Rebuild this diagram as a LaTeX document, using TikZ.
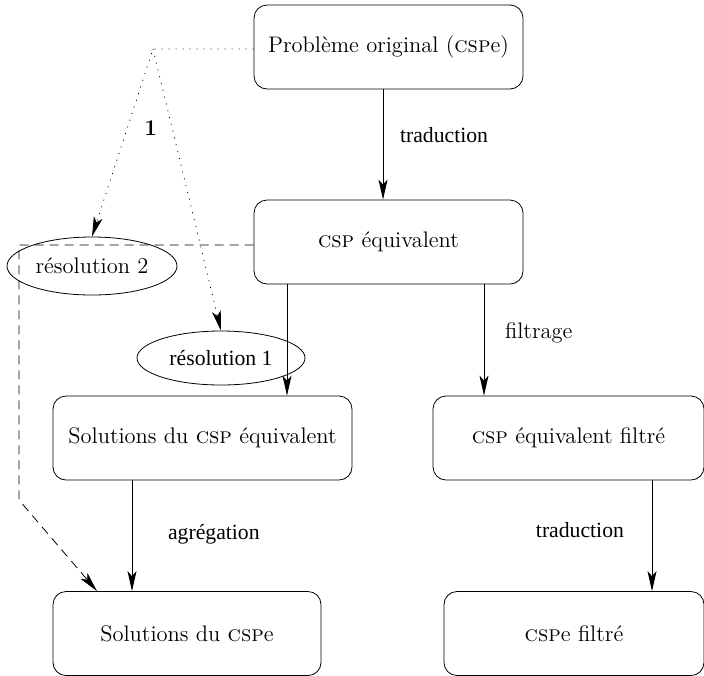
\documentclass[tikz,border=0pt]{standalone}
\usepackage{fontspec}
\newfontfamily\timesfont{Liberation Serif}
\usetikzlibrary{shapes.geometric,arrows.meta}
\newcommand{\CSP}{\textsc{csp}}
\newcommand{\CSPe}{\textsc{csp}e}
\begin{document}
\begin{tikzpicture}[x=0.5pt,y=-0.5pt,
    font=\fontsize{11.25}{13.5}\selectfont,
    boite/.style={draw,rounded corners=6.5pt,minimum height=42pt,inner sep=0pt},
    bulle/.style={draw,ellipse,minimum width=84pt,minimum height=27pt,inner sep=0pt},
    fleche/.style={-{Stealth[length=10pt,width=4.5pt,inset=2.5pt]}},
    etiq/.style={font=\timesfont\fontsize{10.85}{13}\selectfont},
    pointille/.style={dash pattern=on 0.5pt off 3pt},
    tirets/.style={dash pattern=on 4.5pt off 3pt}]
  \useasboundingbox (0,0) rectangle (704,675);
  % boites
  \node[boite,minimum width=134.5pt] (orig) at (388.5,47) {Problème original (\CSPe)};
  \node[boite,minimum width=134.5pt] (equiv) at (388.5,242) {\CSP{} équivalent};
  \node[boite,minimum width=149.5pt] (solequiv) at (202.5,438) {Solutions du \CSP{} équivalent};
  \node[boite,minimum width=135.5pt] (filtre) at (568.5,438) {\CSP{} équivalent filtré};
  \node[boite,minimum width=134pt] (solcspe) at (187,633.5) {Solutions du \CSPe};
  \node[boite,minimum width=130pt] (cspefiltre) at (574,633.5) {\CSPe{} filtré};
  % resolutions
  \node[bulle,minimum width=85pt,minimum height=29pt] (res2) at (92,266) {résolution 2};
  \node[bulle,etiq] (res1) at (221,358) {résolution 1};
  % fleches
  \draw[fleche] (orig.south -| 383,0) -- node[etiq,pos=.41,right=5pt]{traduction} (equiv.north -| 383,0);
  \draw[fleche] (equiv.south -| 287,0) -- (solequiv.north -| 287,0);
  \draw[fleche] (equiv.south -| 484,0) -- node[pos=.44,right=7pt]{filtrage} (filtre.north -| 484,0);
  \draw[fleche] (solequiv.south -| 132,0) -- node[etiq,pos=.49,right=14.5pt]{agrégation} (solcspe.north -| 132,0);
  \draw[fleche] (filtre.south -| 652,0) -- node[etiq,pos=.45,left=10.5pt]{traduction} (cspefiltre.north -| 652,0);
  \draw[pointille,fleche] ([yshift=-1pt]orig.west) -- (153,49) coordinate (coude)
    -- node[pos=.42,right=5pt]{\textbf{1}} (res2.north);
  \draw[pointille,fleche] (coude) -- (res1.north);
  \draw[tirets,fleche] ([yshift=-1.5pt]equiv.west) -- (19,245) -- (19,500) -- (solcspe.north -| 97,0);
\end{tikzpicture}
\end{document}
